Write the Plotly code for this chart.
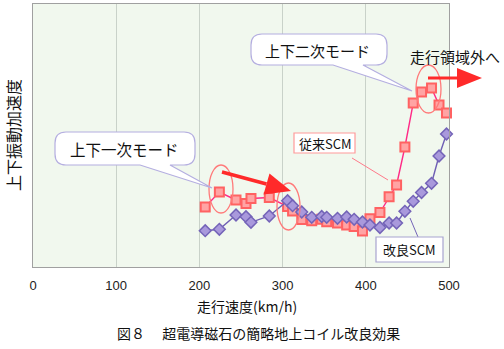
import plotly.graph_objects as go

# Running speed (km/h) at each measured point
speed = [207, 224, 244, 256, 262, 284, 306, 312, 323, 335, 347, 353, 366,
         377, 386, 396, 405, 417, 428, 437, 447, 457, 467, 479, 488, 497]

# Vertical vibration acceleration (relative units)
conventional_scm = [60, 75, 67, 63.5, 68.5, 69.5, 60.5, 56, 47.5, 46.3, 47.7, 45.2, 44,
                    42, 40.4, 36, 48.2, 54.5, 70.3, 82, 120, 164, 175, 179, 162, 154]
improved_scm = [36.3, 37.7, 52, 50.3, 44.7, 51, 66.3, 61.3, 55, 49.7, 50.5, 49.7, 48.7,
                50, 47.7, 45, 42, 39.5, 44, 44, 55.7, 65.7, 74.5, 83.7, 111, 133]

x_ticks = [0, 100, 200, 300, 400, 500]

JP = "Noto Sans CJK JP"

# plot area in pixels: x 33..449, y 4..267
L, R, T, B = 33, 449, 4, 267
W, H = 504, 349


def px(p):
    return (p - L) / (R - L)


def py(p):
    return (B - p) / (B - T)


def callout(x0, y0, x1, y1, r, tail):
    """Rounded box with a pointed tail leaving the bottom edge."""
    ta, tb, (tx, ty) = tail
    pts = [
        f"M {px(x0 + r)},{py(y0)}",
        f"L {px(x1 - r)},{py(y0)}",
        f"Q {px(x1)},{py(y0)} {px(x1)},{py(y0 + r)}",
        f"L {px(x1)},{py(y1 - r)}",
        f"Q {px(x1)},{py(y1)} {px(x1 - r)},{py(y1)}",
        f"L {px(tb)},{py(y1)}",
        f"L {px(tx)},{py(ty)}",
        f"L {px(ta)},{py(y1)}",
        f"L {px(x0 + r)},{py(y1)}",
        f"Q {px(x0)},{py(y1)} {px(x0)},{py(y1 - r)}",
        f"L {px(x0)},{py(y0 + r)}",
        f"Q {px(x0)},{py(y0)} {px(x0 + r)},{py(y0)}",
        "Z",
    ]
    return dict(type="path", xref="paper", yref="paper", path=" ".join(pts),
                line=dict(color="#b4aee0", width=1.2), fillcolor="white", layer="above")


def ellipse(x0, y0, x1, y1):
    return dict(type="circle", xref="paper", yref="paper",
                x0=px(x0), x1=px(x1), y0=py(y1), y1=py(y0),
                line=dict(color="#ff7a7a", width=1.3), layer="above")


def arrow(x0, y0, tip, base_l, base_r, width):
    return [
        dict(type="line", xref="paper", yref="paper",
             x0=px(x0), y0=py(y0),
             x1=px((base_l[0] + base_r[0]) / 2), y1=py((base_l[1] + base_r[1]) / 2),
             line=dict(color="#ff2a2a", width=width), layer="above"),
        dict(type="path", xref="paper", yref="paper",
             path=(f"M {px(tip[0])},{py(tip[1])} L {px(base_l[0])},{py(base_l[1])} "
                   f"L {px(base_r[0])},{py(base_r[1])} Z"),
             fillcolor="#ff2a2a", line=dict(color="#ff2a2a", width=0), layer="above"),
    ]


def label(text, x, y, size, angle=0):
    return dict(text=text, x=px(x), y=py(y), xref="paper", yref="paper",
                xanchor="center", yanchor="middle", showarrow=False, textangle=angle,
                font=dict(family=JP, size=size, color="#111"))


fig = go.Figure()

fig.add_trace(go.Scatter(
    x=speed, y=conventional_scm, mode="lines+markers", name="従来SCM",
    line=dict(color="#ff2a86", width=1.4),
    marker=dict(symbol="square", size=9, color="#ffa4a4",
                line=dict(color="#ff6262", width=2)),
    cliponaxis=False,
))
fig.add_trace(go.Scatter(
    x=speed, y=improved_scm, mode="lines+markers", name="改良SCM",
    line=dict(color="#6f5fb4", width=1.4),
    marker=dict(symbol="diamond", size=9, color="#a999dc",
                line=dict(color="#7464b8", width=1.5)),
    cliponaxis=False,
))

shapes = [
    # oval highlights around the resonance peaks
    ellipse(209, 165, 233, 213),
    ellipse(277, 183, 300, 230),
    ellipse(416, 65, 441, 113),
    # leader lines for the series labels
    dict(type="line", xref="paper", yref="paper", x0=px(352), y0=py(158), x1=px(388), y1=py(180),
         line=dict(color="#ff7a8a", width=1), layer="above"),
    dict(type="line", xref="paper", yref="paper", x0=px(418), y0=py(237), x1=px(410), y1=py(218),
         line=dict(color="#7464b8", width=1), layer="above"),
    # label boxes
    dict(type="rect", xref="paper", yref="paper", x0=px(294), x1=px(355), y0=py(153), y1=py(133),
         line=dict(color="#ff9a9a", width=1.2), fillcolor="white", layer="above"),
    dict(type="rect", xref="paper", yref="paper", x0=px(376), x1=px(443), y0=py(262), y1=py(237),
         line=dict(color="#a8a4d0", width=1.2), fillcolor="white", layer="above"),
    # speech-bubble callouts
    callout(55, 132, 195, 165, 11, (140, 170, (212, 188))),
    callout(251, 34, 387, 65, 11, (333, 363, (412, 91))),
]
shapes += arrow(222, 172, (291, 191), (263.5, 194.5), (269.5, 173.5), 3.5)
shapes += arrow(428, 78, (482, 78), (457, 88), (457, 68), 3)

annotations = [
    label("上下一次モード", 124, 149, 15.5),
    label("上下二次モード", 317, 50, 15),
    label("従来SCM", 325, 143, 13),
    label("改良SCM", 409, 249.5, 13),
    label("走行領域外へ", 455, 57, 15),
    label("走行速度(km/h)", 247, 306, 14),
    label("図８　 超電導磁石の簡略地上コイル改良効果", 258, 333, 14),
    label("上下振動加速度", 13, 135, 16, -90),
]

fig.update_layout(
    width=W, height=H,
    margin=dict(l=L, r=W - R, t=T, b=H - B),
    paper_bgcolor="white",
    plot_bgcolor="#f1f8ee",
    showlegend=False,
    shapes=shapes,
    annotations=annotations,
)
fig.update_xaxes(
    range=[0, 500], tickvals=x_ticks, ticktext=[str(v) for v in x_ticks],
    showgrid=True, gridcolor="#c9d2c9", gridwidth=1, zeroline=False,
    showline=True, linecolor="#a0a0a0", linewidth=1, mirror=True,
    ticks="", ticklabelstandoff=6,
    tickfont=dict(family="Liberation Sans, Arial", size=13, color="#222"),
)
fig.update_yaxes(
    range=[0, 263], showticklabels=False, showgrid=False, zeroline=False,
    showline=True, linecolor="#a0a0a0", linewidth=1, mirror=True, ticks="",
)

fig.write_html("out.html")
